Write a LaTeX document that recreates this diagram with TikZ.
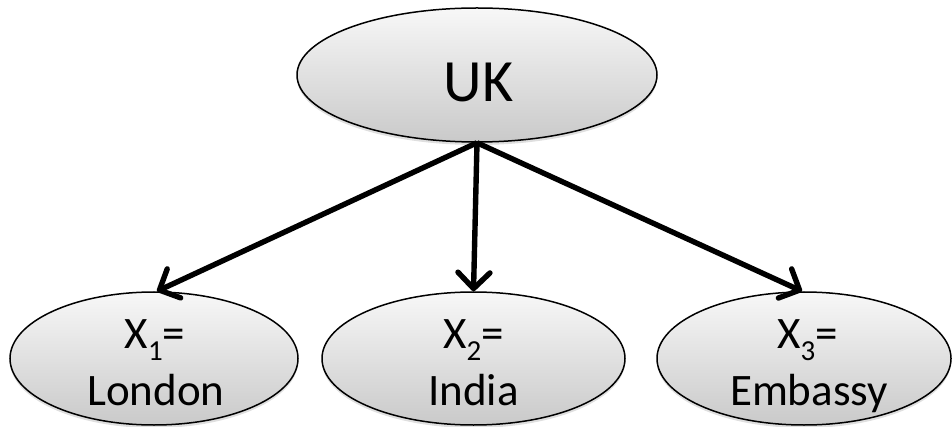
\documentclass[tikz,border=0pt]{standalone}
\usepackage{fontspec}
\setmainfont{Carlito}
\usetikzlibrary{arrows.meta,shadows,shapes.geometric}
\newcommand\xsub[1]{\raisebox{-13pt}{\fontsize{29}{29}\selectfont #1}}
\begin{document}
\begin{tikzpicture}[x=1pt,y=-1pt,
  oval/.style={ellipse,draw=black,line width=1.5pt,inner sep=0pt,
    top color=black!3,bottom color=black!21,
    drop shadow={shadow xshift=0pt,shadow yshift=-3pt,opacity=0.25}},
  big/.style={anchor=base,font=\fontsize{60}{72}\selectfont},
  txt/.style={anchor=base,font=\fontsize{45}{54}\selectfont},
  arr/.style={line width=5.4pt,-{Straight Barb[length=16pt,width=32pt,round]}}]
\useasboundingbox (0,0) rectangle (952,427);
\node[oval,minimum width=360pt,minimum height=134pt] (uk) at (477,75) {};
\node[oval,minimum width=288pt,minimum height=133pt] (l) at (154,358.5) {};
\node[oval,minimum width=303pt,minimum height=133pt] (m) at (473.5,358.5) {};
\node[oval,minimum width=294pt,minimum height=133pt] (r) at (804,358.5) {};
\node[big] (uktxt) at (478.5,102) {UK};
\node[txt] (l1) at (155,348) {X\xsub{1}=};
\node[txt] (l2) at (156,405) {London};
\node[txt] (m1) at (473.5,348) {X\xsub{2}=};
\node[txt] (m2) at (473.5,405) {India};
\node[txt] (r1) at (807.5,348) {X\xsub{3}=};
\node[txt] (r2) at (809,405) {Embassy};
\draw[arr] (uk.south) -- ([xshift=3pt]l.north);
\draw[arr] (uk.south) -- (m.north);
\draw[arr] (uk.south) -- ([xshift=-2pt]r.north);
\end{tikzpicture}
\end{document}
